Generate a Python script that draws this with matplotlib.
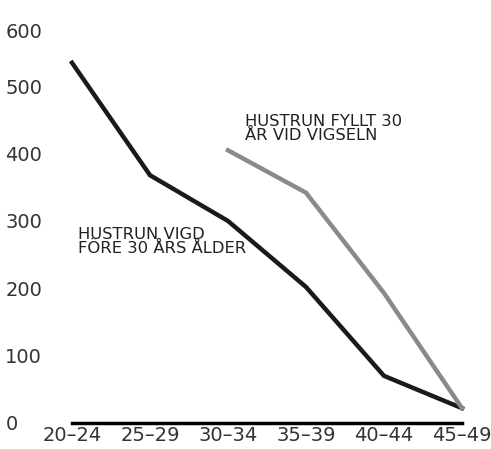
import matplotlib
matplotlib.use("Agg")
import matplotlib.pyplot as plt
import matplotlib.transforms as mtransforms

# Age groups of the husband and the two series
age_groups = ["20–24", "25–29", "30–34", "35–39", "40–44", "45–49"]
wed_before_30 = [535, 368, 300, 202, 70, 22]
wed_after_30_groups = ["30–34", "35–39", "40–44", "45–49"]
wed_after_30 = [405, 342, 193, 22]
yticks = [0, 100, 200, 300, 400, 500, 600]

fig = plt.figure(figsize=(4.91, 4.49), dpi=100)
ax = fig.add_axes([72 / 491, 26 / 449, 390 / 491, 404 / 449])

xpos = {g: i for i, g in enumerate(age_groups)}
ax.plot([xpos[g] for g in age_groups], wed_before_30, color="#1a1a1a", lw=3.2,
        solid_joinstyle="miter", clip_on=False)
ax.plot([xpos[g] for g in wed_after_30_groups], wed_after_30, color="#8a8a8a", lw=3.2,
        solid_joinstyle="miter", clip_on=False)

ax.set_xlim(0, len(age_groups) - 1)
ax.set_ylim(0, 600)

for s in ["top", "right", "left"]:
    ax.spines[s].set_visible(False)
ax.spines["bottom"].set_linewidth(2.5)
ax.spines["bottom"].set_color("black")

ax.set_xticks(range(len(age_groups)))
ax.set_xticklabels(age_groups)
ax.set_yticks(yticks)
ax.set_yticklabels([str(v) for v in yticks], ha="left")
ax.tick_params(axis="x", length=0, pad=2, labelsize=14)
# pad in points: pushes the left-aligned labels out to the figure edge
ax.tick_params(axis="y", length=0, pad=48, labelsize=14)
for lab in ax.get_xticklabels() + ax.get_yticklabels():
    lab.set_color("#333333")

# nudge the top label down a little so it sits clear of the edge
top_lab = ax.get_yticklabels()[-1]
top_lab.set_transform(top_lab.get_transform() +
                      mtransforms.ScaledTranslation(0, -8 / 72, fig.dpi_scale_trans))

ax.text(0.08, 291, "HUSTRUN VIGD\nFÖRE 30 ÅRS ÅLDER", fontsize=11.8,
        va="top", ha="left", linespacing=0.95, color="#222222")
ax.text(2.22, 459, "HUSTRUN FYLLT 30\nÅR VID VIGSELN", fontsize=11.8,
        va="top", ha="left", linespacing=0.95, color="#222222")

fig.savefig("out.png", dpi=100)
